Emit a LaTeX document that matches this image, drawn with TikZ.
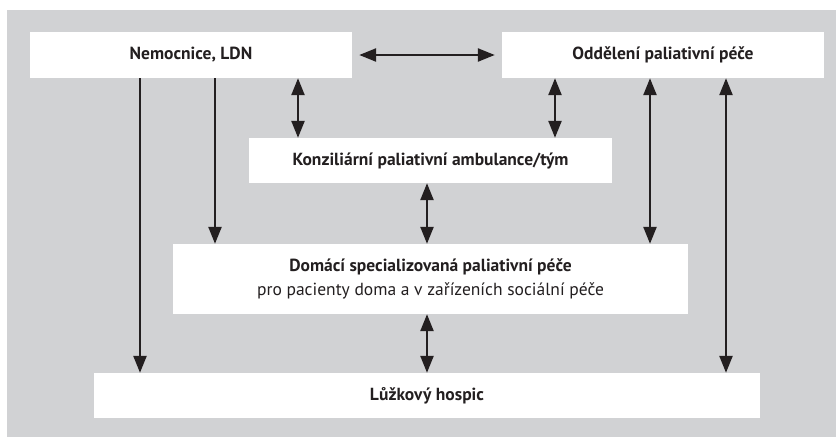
\documentclass[tikz,border=0pt]{standalone}
\usepackage{fontspec}
\setmainfont{PT Sans}
\usetikzlibrary{arrows.meta}
\definecolor{bggray}{HTML}{D1D2D4}
\definecolor{ink}{HTML}{231F20}
\begin{document}
\begin{tikzpicture}[x=1pt,y=-1pt,
  box/.style={fill=white,draw=none,inner sep=0pt,text=ink,font=\fontsize{17.5}{24}\selectfont\bfseries,align=center},
  conn/.style={draw=ink,line width=2.4pt,-{Triangle[length=17pt,width=13pt]}},
  dconn/.style={draw=ink,line width=2.4pt,{Triangle[length=17pt,width=13pt]}-{Triangle[length=17pt,width=13pt]}}]
\useasboundingbox (0,0) rectangle (836,437);
\fill[bggray] (7,10) rectangle (836,437);
\node[box,minimum width=322pt,minimum height=46pt] (nem) at (191,55) {Nemocnice, LDN};
\node[box,minimum width=322pt,minimum height=46pt] (odd) at (663,55) {Oddělení paliativní péče};
\node[box,minimum width=363pt,minimum height=45pt] (kon) at (430.5,160.5) {Konziliární paliativní ambulance/tým};
\node[box,minimum width=515pt,minimum height=70pt] (dom) at (430.5,279) {Domácí specializovaná paliativní péče\\\mdseries pro pacienty doma a v zařízeních sociální péče};
\node[box,minimum width=666pt,minimum height=45pt] (luz) at (427,395.5) {Lůžkový hospic};
\coordinate (xa) at (140,0);
\coordinate (xb) at (215,0);
\coordinate (xc) at (298,0);
\coordinate (xd) at (555,0);
\coordinate (xe) at (427,0);
\coordinate (xf) at (650,0);
\coordinate (xg) at (726,0);
\draw[dconn,shorten <=7pt,shorten >=7pt] (nem.east) -- (odd.west);
\draw[conn] (xa |- nem.south) -- (xa |- luz.north);
\draw[conn] (xb |- nem.south) -- (xb |- dom.north);
\draw[dconn] (xc |- nem.south) -- (xc |- kon.north);
\draw[dconn] (xd |- odd.south) -- (xd |- kon.north);
\draw[dconn] (xe |- kon.south) -- (xe |- dom.north);
\draw[dconn] (xf |- odd.south) -- (xf |- dom.north);
\draw[dconn] (xg |- odd.south) -- (xg |- luz.north);
\draw[dconn] (xe |- dom.south) -- (xe |- luz.north);
\end{tikzpicture}
\end{document}
